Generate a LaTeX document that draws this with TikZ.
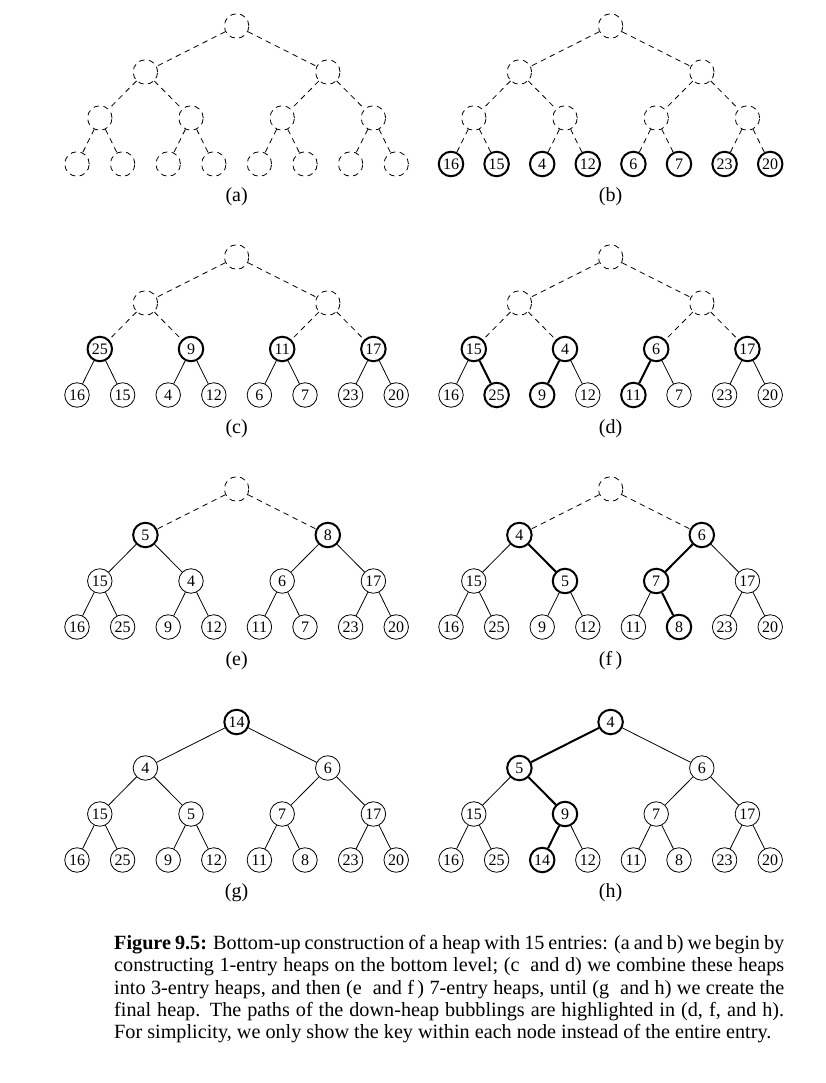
\documentclass[tikz,border=0pt]{standalone}
\usepackage{fontspec}
\setmainfont{Liberation Serif}
\begin{document}
\begin{tikzpicture}[x=1pt,y=-1pt,
  hbase/.style={circle,minimum size=24.5pt,inner sep=0pt,font=\fontsize{16}{18}\selectfont},
  hn/.style={hbase,draw,line width=0.8pt},
  ht/.style={hbase,draw,line width=2pt},
  he/.style={hbase,draw,line width=0.8pt,dash pattern=on 5.5pt off 4.5pt},
  en/.style={line width=0.8pt},
  et/.style={line width=2pt},
  ee/.style={line width=0.8pt,dash pattern=on 5.5pt off 4.5pt},
  lab/.style={font=\fontsize{20}{24}\selectfont,inner sep=0pt}]
\fill[white] (0,0) rectangle (826,1083);
\useasboundingbox (0,0) rectangle (826,1083);
\newcommand\heaptree[4]{%
  \foreach \i/\s/\t/\e in {#4} {%
    \pgfmathtruncatemacro\hd{(\i>=2)+(\i>=4)+(\i>=8)}%
    \pgfmathtruncatemacro\hp{2^\hd}%
    \pgfmathsetmacro\xx{#2+45.6*((\i-\hp+0.5)*2^(3-\hd)-0.5)}%
    \pgfmathsetmacro\yy{#3-46*(3-\hd)}%
    \node[\s] (#1\i) at (\xx,\yy) {\t};
    \ifnum\i>1
      \pgfmathtruncatemacro\hpa{int(\i/2)}%
      \draw[\e] (#1\hpa) -- (#1\i);
    \fi
  }%
}
% (a)
\heaptree{a}{77}{164}{1/he//ee,2/he//ee,3/he//ee,4/he//ee,5/he//ee,6/he//ee,7/he//ee,8/he//ee,9/he//ee,10/he//ee,11/he//ee,12/he//ee,13/he//ee,14/he//ee,15/he//ee}
% (b)
\heaptree{b}{451}{164}{1/he//ee,2/he//ee,3/he//ee,4/he//ee,5/he//ee,6/he//ee,7/he//ee,8/ht/16/ee,9/ht/15/ee,10/ht/4/ee,11/ht/12/ee,12/ht/6/ee,13/ht/7/ee,14/ht/23/ee,15/ht/20/ee}
% (c)
\heaptree{c}{77}{395}{1/he//ee,2/he//ee,3/he//ee,4/ht/25/ee,5/ht/9/ee,6/ht/11/ee,7/ht/17/ee,8/hn/16/en,9/hn/15/en,10/hn/4/en,11/hn/12/en,12/hn/6/en,13/hn/7/en,14/hn/23/en,15/hn/20/en}
% (d)
\heaptree{d}{451}{395}{1/he//ee,2/he//ee,3/he//ee,4/ht/15/ee,5/ht/4/ee,6/ht/6/ee,7/ht/17/ee,8/hn/16/en,9/ht/25/et,10/ht/9/et,11/hn/12/en,12/ht/11/et,13/hn/7/en,14/hn/23/en,15/hn/20/en}
% (e)
\heaptree{e}{77}{627}{1/he//ee,2/ht/5/ee,3/ht/8/ee,4/hn/15/en,5/hn/4/en,6/hn/6/en,7/hn/17/en,8/hn/16/en,9/hn/25/en,10/hn/9/en,11/hn/12/en,12/hn/11/en,13/hn/7/en,14/hn/23/en,15/hn/20/en}
% (f)
\heaptree{f}{451}{627}{1/he//ee,2/ht/4/ee,3/ht/6/ee,4/hn/15/en,5/ht/5/et,6/ht/7/et,7/hn/17/en,8/hn/16/en,9/hn/25/en,10/hn/9/en,11/hn/12/en,12/hn/11/en,13/ht/8/et,14/hn/23/en,15/hn/20/en}
% (g)
\heaptree{g}{77}{860}{1/ht/14/en,2/hn/4/en,3/hn/6/en,4/hn/15/en,5/hn/5/en,6/hn/7/en,7/hn/17/en,8/hn/16/en,9/hn/25/en,10/hn/9/en,11/hn/12/en,12/hn/11/en,13/hn/8/en,14/hn/23/en,15/hn/20/en}
% (h)
\heaptree{h}{451}{860}{1/ht/4/en,2/ht/5/et,3/hn/6/en,4/hn/15/en,5/ht/9/et,6/hn/7/en,7/hn/17/en,8/hn/16/en,9/hn/25/en,10/ht/14/et,11/hn/12/en,12/hn/11/en,13/hn/8/en,14/hn/23/en,15/hn/20/en}
% labels
\node[lab] (la) at (236.6,197) {(a)};
\node[lab] (lb) at (610.6,197) {(b)};
\node[lab] (lc) at (236.6,429) {(c)};
\node[lab] (ld) at (610.6,429) {(d)};
\node[lab] (le) at (236.6,661) {(e)};
\node[lab] (lf) at (610.6,661) {(f\,)};
\node[lab] (lg) at (236.6,893) {(g)};
\node[lab] (lh) at (610.6,893) {(h)};
% caption
\node[anchor=north west,inner sep=0pt,text width=670pt,align=justify,
  font=\fontsize{20.2}{22.3}\selectfont] (cap) at (114,935)
{\textbf{Figure 9.5:} Bottom-up construction of a heap with 15 entries: (a and b) we begin by\linebreak
constructing 1-entry heaps on the bottom level; (c~ and d) we combine these heaps\linebreak
into 3-entry heaps, and then (e~ and f\,) 7-entry heaps, until (g~ and h) we create the\linebreak
final heap. The paths of the down-heap bubblings are highlighted in (d, f, and h).\linebreak
For simplicity, we only show the key within each node instead of the entire entry.};
\end{tikzpicture}
\end{document}
